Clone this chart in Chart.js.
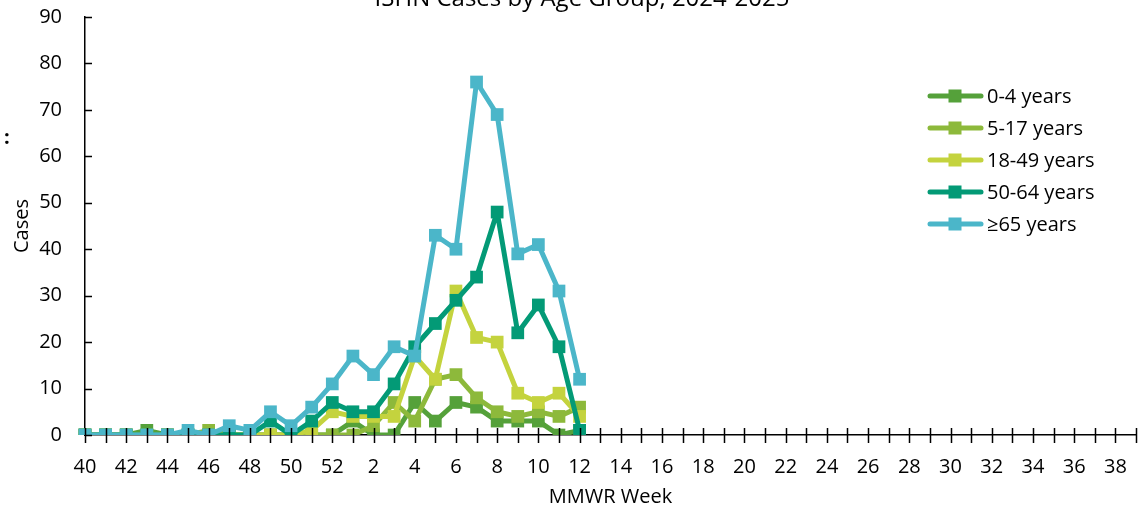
<!DOCTYPE html>
<html>
<head>
<meta charset="utf-8">
<script src="https://cdn.jsdelivr.net/npm/chart.js@4"></script>
<style>
  html, body { margin: 0; padding: 0; background: #fff; overflow: hidden; }
  #chart { display: block; }
</style>
</head>
<body>
<canvas id="chart" width="1145" height="509"></canvas>
<script>
// MMWR weeks 40-52 of 2024, then 1-39 of 2025
const weeks = [40, 41, 42, 43, 44, 45, 46, 47, 48, 49, 50, 51, 52,
  1, 2, 3, 4, 5, 6, 7, 8, 9, 10, 11, 12, 13, 14, 15, 16, 17, 18, 19, 20,
  21, 22, 23, 24, 25, 26, 27, 28, 29, 30, 31, 32, 33, 34, 35, 36, 37, 38, 39];

// reported weeks 40..12, later weeks have no data yet
const age0to4   = [0, 0, 0, 1, 0, 0, 0, 0, 0, 0, 0, 0, 0, 3, 0, 0, 7, 3, 7, 6, 3, 3, 3, 0, 1];
const age5to17  = [0, 0, 0, 0, 0, 0, 1, 0, 0, 0, 0, 0, 0, 0, 2, 7, 3, 12, 13, 8, 5, 4, 5, 4, 6];
const age18to49 = [0, 0, 0, 0, 0, 0, 0, 0, 0, 0, 0, 1, 5, 4, 4, 4, 17, 12, 31, 21, 20, 9, 7, 9, 4];
const age50to64 = [0, 0, 0, 0, 0, 0, 0, 0, 0, 3, 0, 3, 7, 5, 5, 11, 19, 24, 29, 34, 48, 22, 28, 19, 1];
const age65plus = [0, 0, 0, 0, 0, 1, 0, 2, 1, 5, 2, 6, 11, 17, 13, 19, 17, 43, 40, 76, 69, 39, 41, 31, 12];

const seriesNames = ['0-4 years', '5-17 years', '18-49 years', '50-64 years', '≥65 years'];
const seriesColors = ['#55A13A', '#8DB93B', '#C4D33E', '#039A76', '#4BB6C9'];
const yTicks = [0, 10, 20, 30, 40, 50, 60, 70, 80, 90];

const FONT = '"Open Sans", "Liberation Sans", sans-serif';

function pad(arr) {
  const out = arr.slice();
  while (out.length < weeks.length) out.push(null);
  return out;
}

const allSeries = [age0to4, age5to17, age18to49, age50to64, age65plus];

const datasets = allSeries.map((vals, i) => ({
  label: seriesNames[i],
  data: pad(vals),
  borderColor: seriesColors[i],
  backgroundColor: seriesColors[i],
  pointBackgroundColor: seriesColors[i],
  pointBorderWidth: 0,
  pointStyle: 'rect',
  pointRadius: 9,
  borderWidth: 5,
  borderJoinStyle: 'round',
  borderCapStyle: 'round',
  // later series drawn on top, like the original
  order: allSeries.length - i,
}));

// title, legend, and inward/crossing tick marks
const extras = {
  id: 'extras',
  afterDraw(chart) {
    const ctx = chart.ctx;
    const x = chart.scales.x;
    const y = chart.scales.y;
    ctx.save();

    // tick marks
    ctx.strokeStyle = '#000';
    ctx.lineWidth = 1.5;
    ctx.beginPath();
    y.ticks.forEach((t, i) => {
      const py = Math.round(y.getPixelForTick(i)) + 0.5;
      ctx.moveTo(x.left, py);
      ctx.lineTo(x.left + 7, py);
    });
    weeks.forEach((w, i) => {
      const px = Math.round(x.getPixelForTick(i)) + 0.5;
      ctx.moveTo(px, y.bottom - 7);
      ctx.lineTo(px, y.bottom + 8);
    });
    ctx.stroke();

    // title (cut off at the top in the original)
    ctx.fillStyle = '#000';
    ctx.font = '24px ' + FONT;
    ctx.textAlign = 'center';
    ctx.textBaseline = 'alphabetic';
    ctx.fillText('ISHN Cases by Age Group, 2024-2025', 582, 6);

    ctx.font = 'bold 20px ' + FONT;
    ctx.textAlign = 'left';
    ctx.textBaseline = 'middle';
    ctx.fillText(':', 4, 138);

    // legend
    ctx.font = '20px ' + FONT;
    seriesNames.forEach((name, i) => {
      const ly = 96 + i * 32;
      ctx.strokeStyle = seriesColors[i];
      ctx.lineWidth = 5;
      ctx.lineCap = 'round';
      ctx.beginPath();
      ctx.moveTo(930, ly);
      ctx.lineTo(981, ly);
      ctx.stroke();
      ctx.fillStyle = seriesColors[i];
      ctx.fillRect(955 - 6.5, ly - 6.5, 13, 13);
      ctx.fillStyle = '#000';
      ctx.fillText(name, 987, ly + 1);
    });
    ctx.restore();
  }
};

new Chart(document.getElementById('chart'), {
  type: 'line',
  data: { labels: weeks, datasets: datasets },
  plugins: [extras],
  options: {
    responsive: false,
    animation: false,
    devicePixelRatio: 1,
    layout: { padding: { top: 17, right: 9, bottom: 0, left: 0 } },
    plugins: {
      legend: { display: false },
      title: { display: false },
      tooltip: { enabled: false },
    },
    scales: {
      x: {
        type: 'category',
        offset: false,
        grid: { display: false, drawTicks: false },
        border: { display: true, color: '#000', width: 1.5 },
        ticks: {
          autoSkip: false,
          maxRotation: 0,
          padding: 20,
          color: '#000',
          font: { family: FONT, size: 20 },
          callback: (v, i) => (i % 2 === 0 ? String(weeks[i]) : ''),
        },
        title: {
          display: true,
          text: 'MMWR Week',
          color: '#000',
          font: { family: FONT, size: 20 },
          padding: { top: 0, bottom: 0 },
        },
        afterFit(scale) {
          scale.height = 74;
          scale.paddingLeft = 0;
          scale.paddingRight = 0;
        },
      },
      y: {
        min: 0,
        max: 90,
        grid: { display: false, drawTicks: false },
        border: { display: true, color: '#000', width: 1.5 },
        afterBuildTicks(scale) { scale.ticks = yTicks.map(v => ({ value: v })); },
        ticks: {
          padding: 23,
          color: '#000',
          font: { family: FONT, size: 20 },
        },
        title: {
          display: true,
          text: 'Cases',
          color: '#000',
          font: { family: FONT, size: 20 },
          padding: { top: 10, bottom: 0 },
        },
        afterFit(scale) {
          scale.width = 85;
          scale.paddingTop = 0;
          scale.paddingBottom = 0;
        },
      },
    },
  },
});
</script>
</body>
</html>
